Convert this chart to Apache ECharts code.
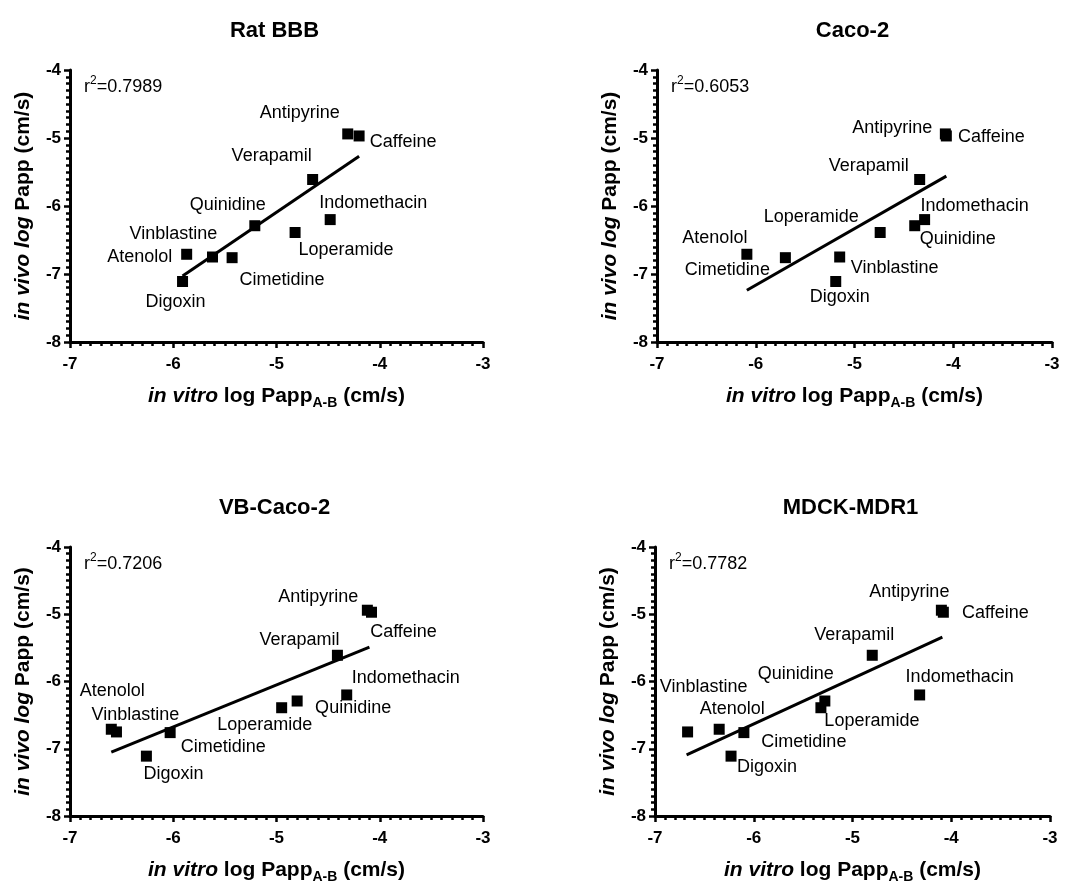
<!DOCTYPE html>
<html>
<head>
<meta charset="utf-8">
<script src="https://cdn.jsdelivr.net/npm/echarts@6/dist/echarts.min.js"></script>
<style>
  html, body { margin: 0; padding: 0; background: #fff; }
  #main { width: 1080px; height: 885px; }
</style>
</head>
<body>
<div id="main"></div>
<script>
// 数据 ------------------------------------------------------------
var drugs = ['Antipyrine', 'Caffeine', 'Verapamil', 'Indomethacin', 'Quinidine',
             'Loperamide', 'Atenolol', 'Vinblastine', 'Cimetidine', 'Digoxin'];
// in vivo log Papp (y)
var inVivo = [-4.94, -4.97, -5.61, -6.20, -6.29, -6.39, -6.71, -6.75, -6.76, -7.11];
// in vitro log Papp A-B (x), one array per panel
var ratBBB  = [-4.31, -4.20, -4.65, -4.48, -5.21, -4.82, -5.87, -5.62, -5.43, -5.91];
var caco2   = [-4.08, -4.07, -4.34, -4.29, -4.39, -4.74, -6.09, -5.15, -5.70, -5.19];
var vbCaco2 = [-4.12, -4.08, -4.41, -4.32, -4.80, -4.95, -6.60, -6.55, -6.03, -6.26];
var mdck    = [-4.10, -4.08, -4.80, -4.32, -5.28, -5.32, -6.35, -6.67, -6.10, -6.23];
// regression lines (end points)
var ratFit  = [[-5.91, -7.03], [-4.20, -5.27]];
var cacoFit = [[-6.09, -7.24], [-4.07, -5.56]];
var vbFit   = [[-6.60, -7.05], [-4.10, -5.49]];
var mdckFit = [[-6.68, -7.09], [-4.09, -5.34]];
var r2 = ['0.7989', '0.6053', '0.7206', '0.7782'];
var panelTitles = ['Rat BBB', 'Caco-2', 'VB-Caco-2', 'MDCK-MDR1'];

// 标签位置 (label centre relative to the point, px)
var offRat  = [[-48, -21], [44, 6], [-41, -23], [43, -17], [-27, -21], [51, 18], [-47, 3], [-39, -23], [50, 22], [-7, 21]];
var offCaco = [[-53, -6], [45, 1], [-51, -13], [50, -14], [43, 13], [-69, -15], [-32, -16], [55, 11], [-58, 12], [4, 16]];
var offVb   = [[-49, -13], [32, 20], [-38, -15], [59, -17], [56, 7], [-17, 17], [1, -38], [19, -17], [53, 14], [27, 18]];
var offMdck = [[-32, -18], [52, 1], [-18, -20], [40, -18], [-29, -27], [51, 13], [13, -20], [16, -45], [60, 9], [36, 11]];

var FONT = 'Arial, "Liberation Sans", sans-serif';

var grids = [
    { left: 70, top: 70, width: 413, height: 272 },
    { left: 657, top: 70, width: 395, height: 272 },
    { left: 70, top: 547, width: 413, height: 273 },
    { left: 655, top: 547, width: 395, height: 273 }
];

var xs = [ratBBB, caco2, vbCaco2, mdck];
var fits = [ratFit, cacoFit, vbFit, mdckFit];
var offs = [offRat, offCaco, offVb, offMdck];

var myChart = echarts.init(document.getElementById('main'));

var axisCommon = {
    axisLine: { onZero: false, lineStyle: { color: '#000', width: 3 } },
    axisTick: { show: true, inside: false, length: 6, lineStyle: { color: '#000', width: 2.5 } },
    minorTick: { show: true, splitNumber: 10, length: 4, lineStyle: { color: '#000', width: 2.5 } },
    splitLine: { show: false },
    axisLabel: { color: '#000', fontSize: 17, fontWeight: 'bold', fontFamily: FONT }
};

var xAxes = [], yAxes = [], series = [], titles = [], graphics = [];
for (var p = 0; p < 4; p++) {
    xAxes.push(echarts.util.merge({
        gridIndex: p, type: 'value', min: -7, max: -3, interval: 1,
        name: '{i|in vitro}{b| log Papp}{s|A-B}{b| (cm/s)}',
        nameLocation: 'middle', nameGap: 40,
        nameTextStyle: {
            rich: {
                i: { fontSize: 21, fontWeight: 'bold', fontStyle: 'italic', fontFamily: FONT, color: '#000', lineHeight: 28 },
                b: { fontSize: 21, fontWeight: 'bold', fontFamily: FONT, color: '#000', lineHeight: 28 },
                s: { fontSize: 14, fontWeight: 'bold', fontFamily: FONT, color: '#000', lineHeight: 14, verticalAlign: 'bottom' }
            }
        }
    }, echarts.util.clone(axisCommon)));
    xAxes[p].axisLabel.margin = 14;

    yAxes.push(echarts.util.merge({
        gridIndex: p, type: 'value', min: -8, max: -4, interval: 1,
        name: '{i|in vivo log}{b| Papp (cm/s)}',
        nameLocation: 'middle', nameGap: 36, nameRotate: 90,
        nameTextStyle: {
            rich: {
                i: { fontSize: 21, fontWeight: 'bold', fontStyle: 'italic', fontFamily: FONT, color: '#000' },
                b: { fontSize: 21, fontWeight: 'bold', fontFamily: FONT, color: '#000' }
            }
        }
    }, echarts.util.clone(axisCommon)));
    yAxes[p].axisLabel.margin = 9;

    var pts = [];
    for (var i = 0; i < drugs.length; i++) {
        pts.push({
            name: drugs[i],
            value: [xs[p][i], inVivo[i]],
            label: { offset: offs[p][i] }
        });
    }
    series.push({
        type: 'scatter', xAxisIndex: p, yAxisIndex: p,
        symbol: 'rect', symbolSize: 11,
        itemStyle: { color: '#000', opacity: 1 },
        label: {
            show: true, position: 'inside', formatter: '{b}',
            color: '#000', opacity: 1, fontSize: 18, fontFamily: FONT
        },
        emphasis: { disabled: true },
        data: pts,
        z: 3
    });
    series.push({
        type: 'line', xAxisIndex: p, yAxisIndex: p,
        symbol: 'none', silent: true,
        lineStyle: { color: '#000', width: 3, opacity: 1 },
        data: fits[p],
        z: 2
    });

    var g = grids[p];
    titles.push({
        text: panelTitles[p],
        left: g.left + g.width / 2 - 7,
        top: p < 2 ? 15 : 492,
        textAlign: 'center',
        textStyle: { fontSize: 22, fontWeight: 'bold', fontFamily: FONT, color: '#000' }
    });
    graphics.push({
        type: 'text',
        left: g.left + 14,
        top: g.top + 5,
        style: {
            text: '{a|r}{s|2}{a|=' + r2[p] + '}',
            rich: {
                a: { fontSize: 18, fontFamily: FONT, fill: '#000', lineHeight: 24 },
                s: { fontSize: 12, fontFamily: FONT, fill: '#000', lineHeight: 12, verticalAlign: 'top' }
            }
        }
    });
}

var option = {
    animation: false,
    backgroundColor: '#fff',
    title: titles,
    grid: grids,
    xAxis: xAxes,
    yAxis: yAxes,
    series: series,
    graphic: graphics
};
myChart.setOption(option);
</script>
</body>
</html>
